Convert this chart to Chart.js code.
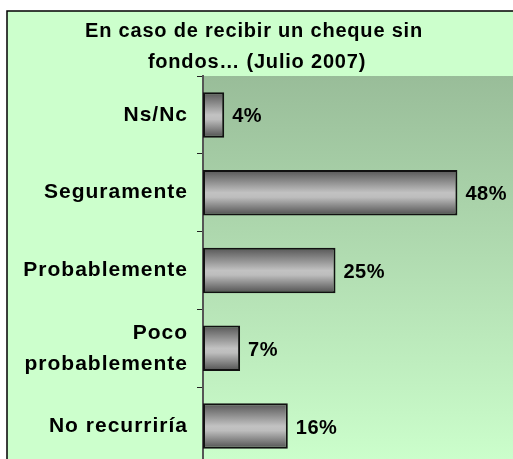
<!DOCTYPE html>
<html>
<head>
<meta charset="utf-8">
<script src="https://cdn.jsdelivr.net/npm/chart.js@4"></script>
<style>
  html, body { margin: 0; padding: 0; background: #fff; overflow: hidden; }
  #wrap { position: relative; width: 525px; height: 470px; }
</style>
</head>
<body>
<div id="wrap"><canvas id="chart" width="525" height="470"></canvas></div>
<script>
// data
const titleLines = ['En caso de recibir un cheque sin', 'fondos… (Julio 2007)'];
const categories = ['Ns/Nc', 'Seguramente', 'Probablemente', ['Poco', 'probablemente'], 'No recurriría'];
const values = [4, 48, 25, 7, 16];
const xMin = 0;
const xMax = 60;

const FONT = '"Liberation Sans", Arial, sans-serif';
const barPct = 0.585;

// green frame + plot background gradient + title
const frameBg = {
  id: 'frameBg',
  beforeDraw(chart) {
    const ctx = chart.ctx;
    const a = chart.chartArea;
    ctx.save();
    ctx.fillStyle = '#ffffff';
    ctx.fillRect(0, 0, chart.width, chart.height);
    ctx.fillStyle = '#ccffcc';
    ctx.fillRect(7, 11, chart.width + 20, chart.height + 20);
    ctx.strokeStyle = '#000';
    ctx.lineWidth = 1.5;
    ctx.strokeRect(7, 11, chart.width + 20, chart.height + 20);

    const g = ctx.createLinearGradient(0, a.top, 0, a.bottom);
    g.addColorStop(0, '#99bd99');
    g.addColorStop(1, '#ccffcc');
    ctx.fillStyle = g;
    ctx.fillRect(a.left, a.top, chart.width - a.left, a.bottom - a.top);

    // title
    ctx.fillStyle = '#000';
    ctx.font = 'bold 20px ' + FONT;
    ctx.letterSpacing = '0.8px';
    ctx.textAlign = 'center';
    ctx.textBaseline = 'alphabetic';
    ctx.fillText(titleLines[0], 254, 37);
    ctx.fillText(titleLines[1], 257, 68);
    ctx.restore();

    // spacing for the category labels drawn by the axis
    ctx.letterSpacing = '1px';
  },
  afterDatasetsDraw(chart) {
    const ctx = chart.ctx;
    const meta = chart.getDatasetMeta(0);
    ctx.save();
    ctx.font = 'bold 20px ' + FONT;
    ctx.letterSpacing = '0.5px';
    ctx.fillStyle = '#000';
    ctx.textAlign = 'left';
    ctx.textBaseline = 'middle';
    meta.data.forEach((bar, i) => {
      ctx.fillText(values[i] + '%', bar.x + 8, bar.y + 2);
    });
    ctx.restore();
  }
};

function barFill(c) {
  const chart = c.chart;
  const y = chart.scales.y;
  if (!chart.chartArea || !y) return '#999';
  const cy = y.getPixelForValue(c.dataIndex);
  const half = (y.getPixelForValue(1) - y.getPixelForValue(0)) * barPct / 2;
  const g = chart.ctx.createLinearGradient(0, cy - half, 0, cy + half);
  g.addColorStop(0, '#555555');
  g.addColorStop(0.5, '#c2c2c2');
  g.addColorStop(0.6, '#bdbdbd');
  g.addColorStop(1, '#4f4f4f');
  return g;
}

new Chart(document.getElementById('chart'), {
  type: 'bar',
  data: {
    labels: categories,
    datasets: [{
      data: values,
      backgroundColor: barFill,
      borderColor: '#111',
      borderWidth: 2,
      borderSkipped: false,
      categoryPercentage: 1,
      barPercentage: barPct
    }]
  },
  options: {
    indexAxis: 'y',
    responsive: false,
    animation: false,
    devicePixelRatio: 1,
    layout: { padding: { top: 76, bottom: 5, right: 4, left: 0 } },
    plugins: {
      legend: { display: false },
      tooltip: { enabled: false },
      title: { display: false }
    },
    scales: {
      x: { display: false, min: xMin, max: xMax },
      y: {
        offset: true,
        afterFit(scale) {
          scale.width = 203;
          scale.paddingTop = 0;
          scale.paddingBottom = 0;
        },
        grid: {
          offset: true,
          drawOnChartArea: false,
          drawTicks: true,
          tickLength: 6,
          color: '#222',
          lineWidth: 1
        },
        border: { display: true, color: '#555', width: 2 },
        ticks: {
          color: '#000',
          padding: 9,
          font: { family: FONT, size: 21, weight: 'bold', lineHeight: 1.48 }
        }
      }
    }
  },
  plugins: [frameBg]
});
</script>
</body>
</html>
